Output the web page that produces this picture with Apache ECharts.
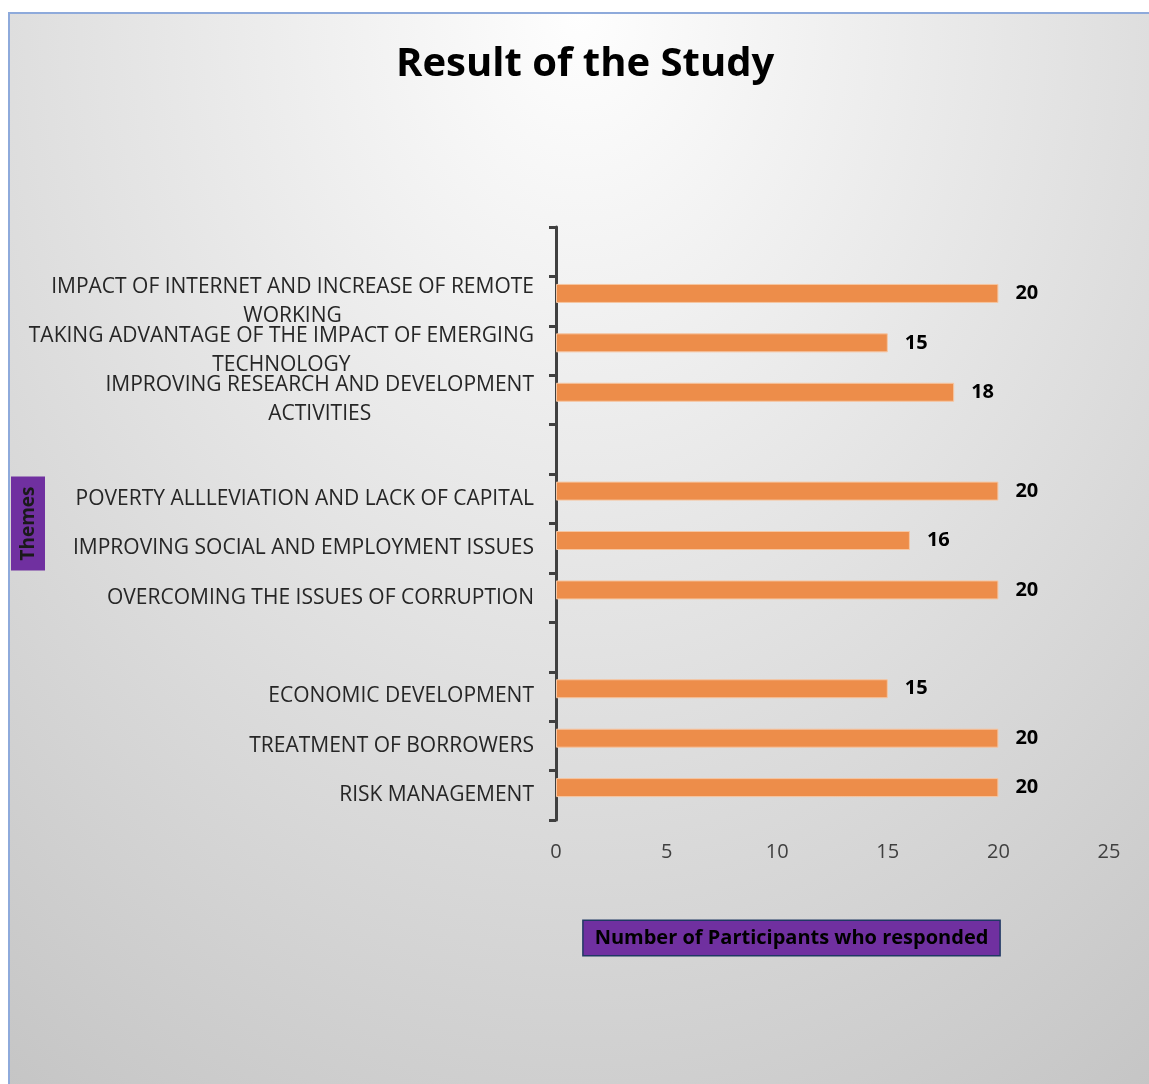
<!DOCTYPE html>
<html>
<head>
<meta charset="utf-8">
<script src="https://cdn.jsdelivr.net/npm/echarts@6/dist/echarts.min.js"></script>
<style>
  html, body { margin: 0; padding: 0; background: #ffffff; }
  #bg { position: absolute; left: 8px; top: 12px; width: 1139px; height: 1070px;
        border-left: 2px solid #8eaadb; border-top: 2px solid #8eaadb;
        background: radial-gradient(1036px 1323px at 570px 0px, #fefefe 0%, #c4c4c4 100%); }
  #chart { position: absolute; left: 0; top: 0; width: 1149px; height: 1084px; }
</style>
</head>
<body>
<div id="bg"></div>
<div id="chart"></div>
<script>
// Categories from top to bottom (blank entries are empty category slots)
var categories = [
  '',
  'IMPACT OF INTERNET AND INCREASE OF REMOTE\nWORKING',
  'TAKING ADVANTAGE OF THE IMPACT OF EMERGING\nTECHNOLOGY',
  'IMPROVING RESEARCH AND DEVELOPMENT\nACTIVITIES',
  '',
  'POVERTY ALLLEVIATION AND LACK OF CAPITAL',
  'IMPROVING SOCIAL AND EMPLOYMENT ISSUES',
  'OVERCOMING THE ISSUES OF CORRUPTION',
  '',
  'ECONOMIC DEVELOPMENT',
  'TREATMENT OF BORROWERS',
  'RISK MANAGEMENT'
];
var values = [null, 20, 15, 18, null, 20, 16, 20, null, 15, 20, 20];
var emptySeries = [null, null, null, null, null, null, null, null, null, null, null, null];
var xTicks = { min: 0, max: 25, interval: 5 };
var titleText = 'Result of the Study';
var yName = 'Themes';
var xName = 'Number of Participants who responded';

var chart = echarts.init(document.getElementById('chart'), null, { renderer: 'canvas' });
var font = 'Open Sans';
chart.setOption({
  backgroundColor: 'transparent',
  animation: false,
  title: {
    text: titleText,
    left: 391,
    top: 40,
    textStyle: { fontFamily: font, fontWeight: 'bold', fontSize: 40, color: '#000000' }
  },
  grid: { left: 556, right: 40, top: 227, bottom: 264, containLabel: false, outerBoundsMode: 'none' },
  xAxis: {
    type: 'value',
    min: xTicks.min, max: xTicks.max, interval: xTicks.interval,
    axisLine: { show: false },
    axisTick: { show: false },
    splitLine: { show: false },
    axisLabel: { color: '#404040', fontFamily: font, fontSize: 20, margin: 22 },
    name: '{box|' + xName + '}{gap|}',
    nameLocation: 'middle',
    nameGap: 101,
    nameMoveOverlap: false,
    nameTextStyle: {
      rich: {
        box: {
          fontFamily: font, fontWeight: 'bold', fontSize: 20, color: '#000000',
          backgroundColor: '#7030a0', borderColor: '#203864', borderWidth: 1.5,
          padding: [7, 11, 7, 11], align: 'center'
        },
        gap: { width: 82 }
      }
    }
  },
  yAxis: {
    type: 'category',
    inverse: true,
    data: categories,
    axisLine: { show: true, lineStyle: { color: '#404040', width: 3 } },
    axisTick: { show: true, interval: 0, length: 7, lineStyle: { color: '#404040', width: 3 } },
    axisLabel: {
      interval: 0, margin: 22, align: 'right',
      formatter: function (v) {
        if (!v) return '';
        return v.split('\n').map(function (s) { return '{c|' + s + '}'; }).join('\n');
      },
      rich: {
        c: { fontFamily: font, fontSize: 21, color: '#262626', align: 'center', lineHeight: 29 }
      }
    },
    name: yName,
    nameLocation: 'middle',
    nameRotate: 90,
    nameGap: 511,
    nameMoveOverlap: false,
    nameTextStyle: {
      fontFamily: font, fontWeight: 'bold', fontSize: 19, color: '#1a1a1a',
      backgroundColor: '#7030a0', padding: [8, 10, 7, 10]
    }
  },
  series: [
    {
      type: 'bar',
      data: values,
      barWidth: 19,
      barGap: '-19%',
      itemStyle: { color: '#ed8d4a', borderColor: '#f6c6a2', borderWidth: 1 },
      label: {
        show: true, position: 'right', distance: 17,
        fontFamily: font, fontWeight: 'bold', fontSize: 20, color: '#000000'
      }
    },
    {
      type: 'bar',
      data: emptySeries,
      barWidth: 19,
      itemStyle: { color: 'transparent' }
    }
  ]
});
</script>
</body>
</html>
